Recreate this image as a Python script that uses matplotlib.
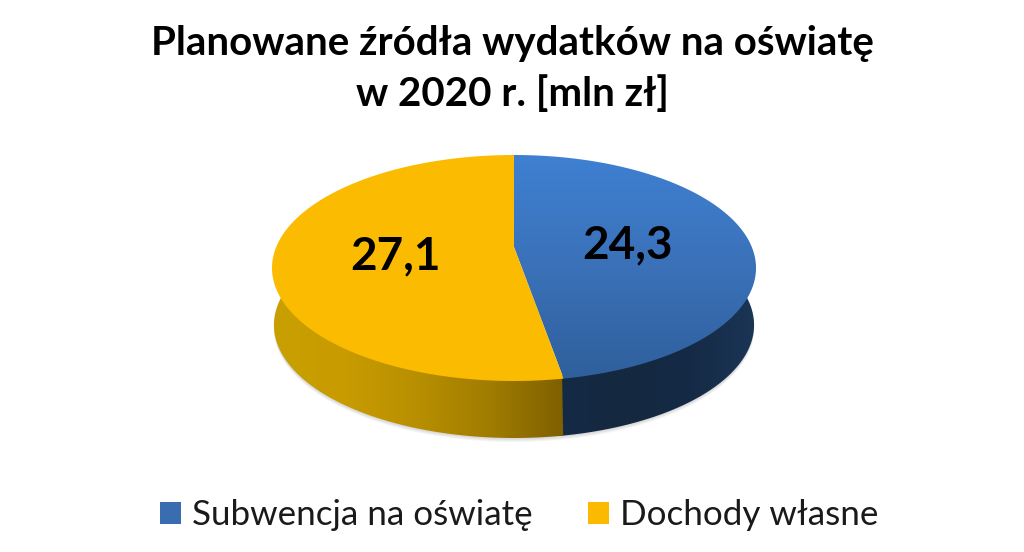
import numpy as np
import matplotlib
matplotlib.use('Agg')
import matplotlib.pyplot as plt
from matplotlib.colors import LinearSegmentedColormap
from matplotlib.patches import Polygon, Rectangle

# chart data
categories = ['Subwencja na oświatę', 'Dochody własne']
values = [24.3, 27.1]
value_labels = ['24,3', '27,1']
title = 'Planowane źródła wydatków na oświatę\nw 2020 r. [mln zł]'

W, H = 1024, 552
CX, CY, RX, RY = 514, 268, 242, 113   # ellipse of the top face, pixels
DEPTH = 57 / RY
APEX = 21 / RY                        # perspective: pie centre sits above the ellipse centre
SHRINK = 0.992                        # bottom rim is a bit narrower than the top one

plt.rcParams['font.family'] = ['Lato', 'DejaVu Sans']


def px(x, y):
    """Pixel position to data units of the pie axes."""
    return (x - CX) / RX, (CY - y) / RY


def project(a):
    """Clockwise-from-top pie angles (degrees) to points on the tilted rim."""
    t = np.radians(a)
    u, v = np.sin(t), np.cos(t)
    d = APEX * v + 1
    return np.column_stack([u * np.sqrt(1 - APEX ** 2) / d, (v + APEX) / d])


def gradient(ax, colors, extent, clip, vertical=False):
    """Draw a linear gradient clipped to a patch."""
    cmap = LinearSegmentedColormap.from_list('g', colors)
    ramp = np.linspace(0, 1, 256)
    ramp = ramp[:, None] if vertical else ramp[None, :]
    im = ax.imshow(ramp, cmap=cmap, extent=extent, origin='upper', aspect='auto',
                   interpolation='bilinear', zorder=2)
    im.set_clip_path(clip)


def hidden_patch(ax, points):
    poly = Polygon(points, closed=True, facecolor='none', edgecolor='none')
    ax.add_patch(poly)
    return poly


def wall_points(a0, a1):
    rim = project(np.linspace(a0, a1, 160))
    bottom = rim[::-1] * [SHRINK, 1] - [0, DEPTH]
    # upper edge pulled inside the top face so no gap shows along the rim
    return np.vstack([rim * 0.97, bottom])


fig = plt.figure(figsize=(W / 100, H / 100), dpi=100, facecolor='white')
ax = fig.add_axes([0, 0, 1, 1])

# pie angles from the values
split = 360 * values[0] / sum(values)
apex = np.array([[0, APEX]])
seam_x = project(np.array([split]))[0, 0]

# soft shadow under the wall
outline = wall_points(60, 300)
for off in range(1, 6):
    ax.add_patch(Polygon(outline + [0, -off / RY * 0.8], closed=True, facecolor='#606060',
                         edgecolor='none', alpha=0.05, zorder=1))

# walls: the ends run on behind the top face, blue slips under the yellow at the seam
blue_side = hidden_patch(ax, wall_points(60, split + 1))
gradient(ax, ['#152a46', '#14283f', '#152a45', '#1b3557'],
         (seam_x - 0.03, 1, -1 - DEPTH, 1), blue_side)
yellow_side = hidden_patch(ax, wall_points(split, 300))
gradient(ax, ['#c9a000', '#c89b00', '#b88f00', '#a07c00', '#7f6000'],
         (-1, seam_x, -1 - DEPTH, 1), yellow_side)

# top face
blue_top = hidden_patch(ax, np.vstack([apex, project(np.linspace(0, split, 200))]))
yellow_top = hidden_patch(ax, np.vstack([apex, project(np.linspace(split, 360, 200))]))
gradient(ax, ['#3f80d2', '#3a71b8', '#2f5f9c'], (-1, 1, -1, 1), blue_top, vertical=True)
gradient(ax, ['#fcbc00', '#fabb00'], (-1, 1, -1, 1), yellow_top, vertical=True)

# value labels
label_px = [(628, 245), (396, 256)]
for (lx, ly), txt in zip(label_px, value_labels):
    x, y = px(lx, ly)
    ax.text(x, y, txt, fontsize=33, fontweight='bold', color='black',
            ha='center', va='center', zorder=5)

ax.set_aspect('auto')
ax.set_xlim(px(0, 0)[0], px(W, 0)[0])
ax.set_ylim(px(0, H)[1], px(0, 0)[1])
ax.axis('off')

fig.text(512 / W, 1 - 69 / H, title, fontsize=29, fontweight='bold', color='black',
         ha='center', va='center', linespacing=1.43)

# legend
handles = [Rectangle((0, 0), 1, 1, facecolor='#3a6db0'),
           Rectangle((0, 0), 1, 1, facecolor='#fbba00')]
fig.legend(handles, categories, loc='center', bbox_to_anchor=(519 / W, 1 - 515 / H),
           ncol=2, frameon=False, fontsize=25.2, handlelength=0.6, handleheight=0.6,
           handletextpad=0.3, columnspacing=1.6, labelcolor='#1a1a1a')

fig.savefig('out.png', dpi=100)
